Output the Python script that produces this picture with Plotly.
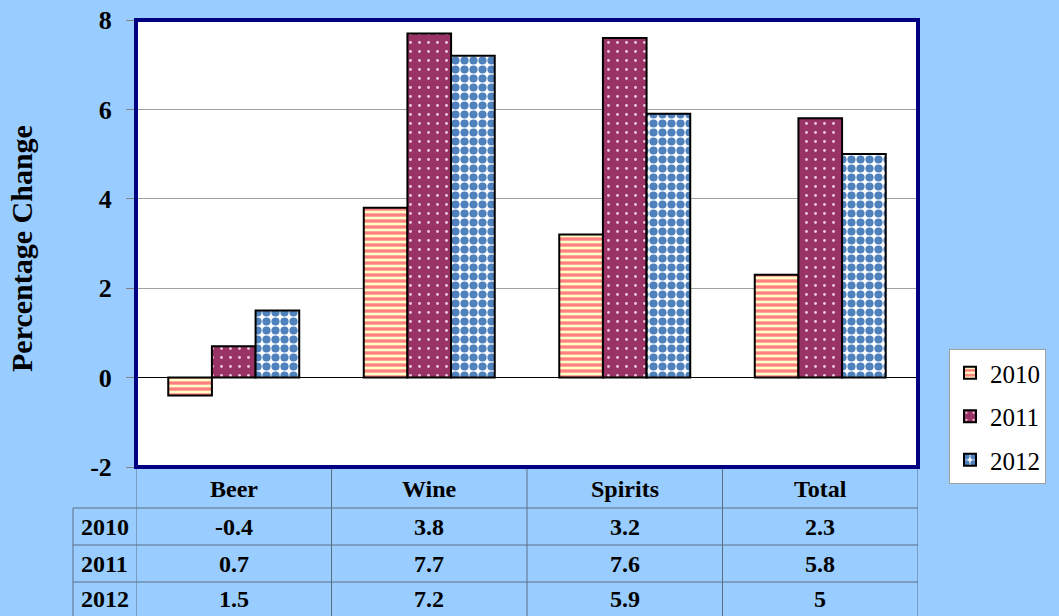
import plotly.graph_objects as go

categories = ["Beer", "Wine", "Spirits", "Total"]
years = ["2010", "2011", "2012"]
v2010 = [-0.4, 3.8, 3.2, 2.3]
v2011 = [0.7, 7.7, 7.6, 5.8]
v2012 = [1.5, 7.2, 5.9, 5]
y_ticks = [-2, 0, 2, 4, 6, 8]

FONT = "Liberation Serif"
series = [v2010, v2011, v2012]
patterns = [
    dict(shape="-", bgcolor="#FFFFC8", fgcolor="#FF8080", size=6, solidity=0.55, fillmode="replace"),
    dict(shape=".", bgcolor="#993366", fgcolor="#F0C8DC", size=9, solidity=0.08, fillmode="replace"),
    dict(shape=".", bgcolor="#FFFFFF", fgcolor="#4F81BD", size=9, solidity=0.65, fillmode="replace"),
]

fig = go.Figure()
for i, (yr, vals) in enumerate(zip(years, series)):
    fig.add_trace(go.Bar(
        x=categories, y=vals, name=yr, legendgroup=yr,
        marker=dict(pattern=patterns[i], line=dict(color="black", width=2)),
    ))

# table geometry in plot-area pixels (plot height 447 px)
H = 447.0
W = 782.0
row_bottoms_px = [41, 78, 115, 149]  # below plot area
shapes = []
line_col = "#5A6E82"
left_px = -63
# horizontal table lines
for rb in row_bottoms_px[:3]:
    shapes.append(dict(type="line", xref="paper", yref="paper", x0=left_px / W, x1=1,
                       y0=-rb / H, y1=-rb / H, line=dict(color=line_col, width=1)))
# vertical lines
for xv in [-0.5, 0.5, 1.5, 2.5, 3.5]:
    shapes.append(dict(type="line", xref="x", yref="paper", x0=xv, x1=xv,
                       y0=0, y1=-row_bottoms_px[3] / H, line=dict(color=line_col, width=1)))
shapes.append(dict(type="line", xref="paper", yref="paper", x0=left_px / W, x1=left_px / W,
                   y0=-row_bottoms_px[0] / H, y1=-row_bottoms_px[3] / H,
                   line=dict(color=line_col, width=1)))
# navy border
shapes.append(dict(type="rect", xref="paper", yref="paper", x0=0, x1=1, y0=0, y1=1,
                   line=dict(color="#000080", width=4), layer="above"))

annotations = []
tfont = dict(family=FONT, size=24, color="black", weight="bold")
row_tops = [0] + row_bottoms_px[:3]
centers = [-(a + b) / 2 / H for a, b in zip(row_tops, row_bottoms_px)]
common = dict(showarrow=False, xanchor="center", yanchor="middle")
for c in categories:
    annotations.append(dict(x=c, y=centers[0] - 1 / H, xref="x", yref="paper", text=c,
                            font=tfont, **common))
for r, (yr, vals) in enumerate(zip(years, series)):
    annotations.append(dict(x=(left_px / 2) / W, y=centers[r + 1], xref="paper", yref="paper",
                            text=yr, font=tfont, **common))
    for c, v in zip(categories, vals):
        annotations.append(dict(x=c, y=centers[r + 1], xref="x", yref="paper",
                                text=f"{v:g}", font=tfont, **common))
annotations.append(dict(x=-114 / W, y=0.49, xref="paper", yref="paper", text="Percentage Change",
                        textangle=-90, font=dict(family=FONT, size=30, color="black", weight="bold"),
                        **common))

fig.update_layout(
    width=1059, height=616,
    margin=dict(l=136, r=141, t=20, b=149, autoexpand=False),
    paper_bgcolor="#99CCFF", plot_bgcolor="white",
    barmode="group", bargap=0.33, bargroupgap=0,
    showlegend=True,
    legend=dict(x=(949 - 136) / W, y=(467 - 349) / H, xanchor="left", yanchor="top",
                bgcolor="white", bordercolor="#A0A0A0", borderwidth=1,
                font=dict(family=FONT, size=25, color="black"),
                traceorder="grouped", tracegroupgap=8, itemwidth=30),
    xaxis=dict(showticklabels=False, showgrid=False, zeroline=False, showline=False,
               range=[-0.5, 3.5], automargin=False),
    yaxis=dict(range=[-2, 8], tickvals=y_ticks, ticktext=[str(t) for t in y_ticks],
               showgrid=True, gridcolor="#A0A0A0", gridwidth=1, automargin=False,
               zeroline=True, zerolinecolor="black", zerolinewidth=1,
               ticks="outside", ticklen=9, tickcolor="#808080", ticklabelstandoff=9,
               tickfont=dict(family=FONT, size=26, color="black", weight="bold")),
    shapes=shapes, annotations=annotations,
)

fig.write_html("out.html", config={"displayModeBar": False},
               post_script="document.body.style.margin='0px';")
